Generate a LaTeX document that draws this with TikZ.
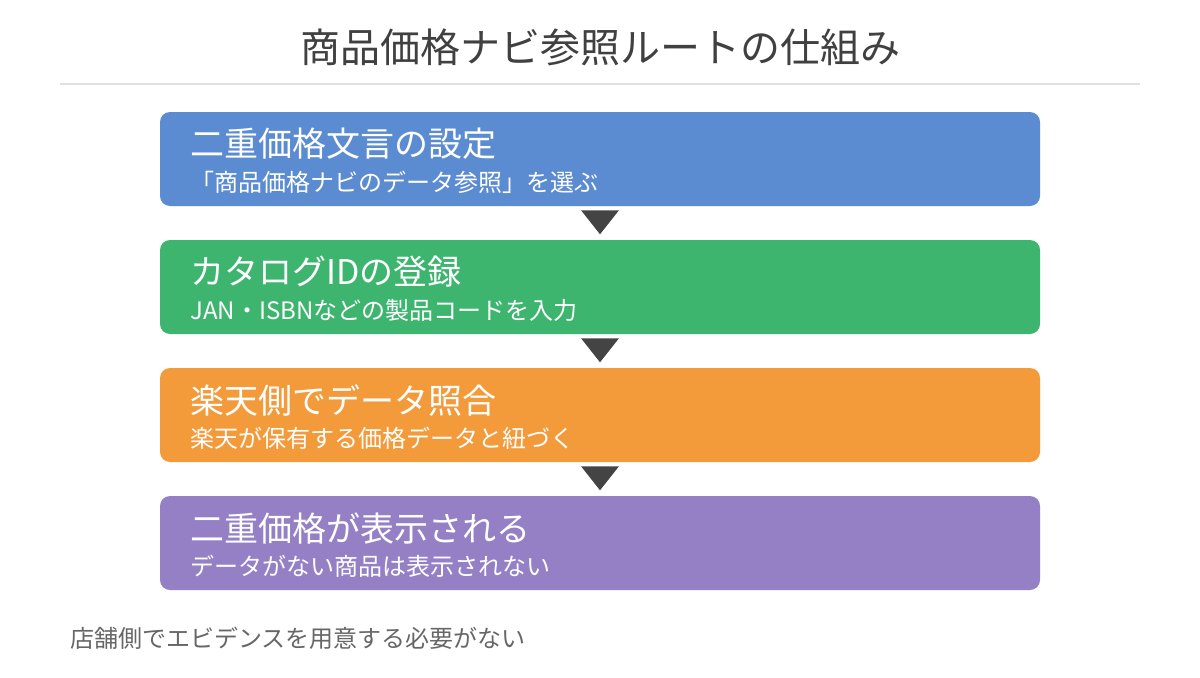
\documentclass[tikz,border=0pt]{standalone}
\usepackage{fontspec}
\setmainfont{Noto Sans CJK JP}
\usetikzlibrary{calc,positioning}
\definecolor{stepblue}{HTML}{5B8BD0}
\definecolor{stepgreen}{HTML}{3DB56F}
\definecolor{steporange}{HTML}{F39A3A}
\definecolor{steppurple}{HTML}{9580C6}
\definecolor{arrowgray}{HTML}{444444}
\tikzset{
  stepbox/.style={draw=none, rounded corners=7.5pt, minimum width=660pt, minimum height=70.5pt, inner sep=0pt},
  head/.style={anchor=west, inner sep=0pt, text=white, font=\fontsize{25.5}{27}\selectfont},
  sub/.style={anchor=west, inner sep=0pt, text=white, font=\fontsize{18}{20}\selectfont},
}
\begin{document}
\begin{tikzpicture}[x=0.75pt,y=0.75pt,yscale=-1,xscale=1]
\useasboundingbox (0,0) rectangle (1200,678);

\node (title) at (600,47) [inner sep=0pt, text=black!75, font=\fontsize{30}{32}\selectfont] {商品価格ナビ参照ルートの仕組み};
\draw [line width=1.2pt, black!12] (60,84) -- (1140,84) ;

\node (s1) [stepbox, fill=stepblue] at (600,159) {};
\node (s2) [stepbox, fill=stepgreen] at (600,287) {};
\node (s3) [stepbox, fill=steporange] at (600,415) {};
\node (s4) [stepbox, fill=steppurple] at (600,543) {};

\node (h1) [head] at (190,144) {二重価格文言の設定};
\node (t1) [sub] at (190,182) {「商品価格ナビのデータ参照」を選ぶ};
\node (h2) [head] at (190,272) {カタログIDの登録};
\node (t2) [sub] at (190,310) {JAN・ISBNなどの製品コードを入力};
\node (h3) [head] at (190,400) {楽天側でデータ照合};
\node (t3) [sub] at (190,438) {楽天が保有する価格データと紐づく};
\node (h4) [head] at (190,528) {二重価格が表示される};
\node (t4) [sub] at (190,566) {データがない商品は表示されない};

\foreach \a/\b in {s1/s2,s2/s3,s3/s4}
  \fill [arrowgray] ($(\a.south)+(-19,4)$) -- ($(\a.south)+(19,4)$) -- ($(\a.south)+(0,28)$) -- cycle ;

\node (note) [anchor=west, inner sep=0pt, text=black!60, font=\fontsize{18}{20}\selectfont] at (70,638) {店舗側でエビデンスを用意する必要がない};

\end{tikzpicture}
\end{document}
